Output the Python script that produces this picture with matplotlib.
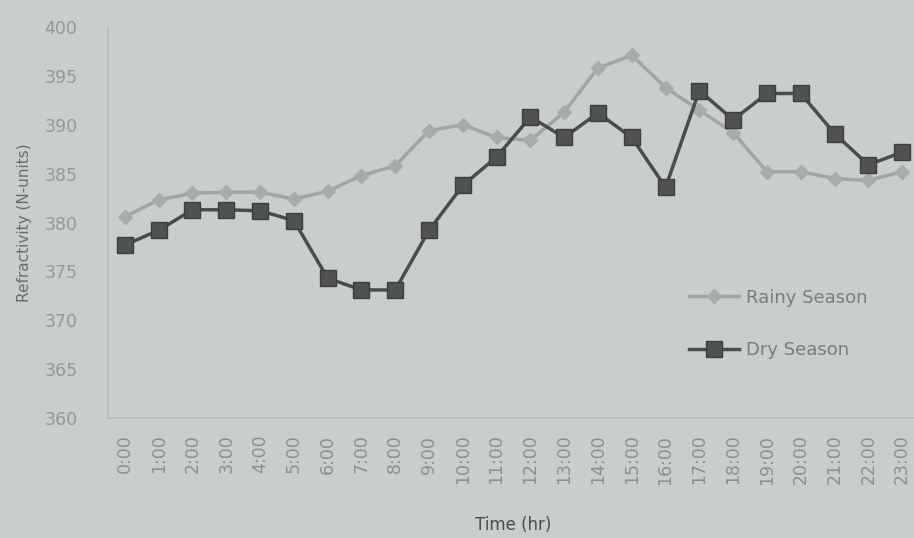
import matplotlib
matplotlib.use("Agg")
import matplotlib.pyplot as plt

hours = [f"{h}:00" for h in range(24)]
rainy = [380.6, 382.3, 383.0, 383.1, 383.1, 382.4, 383.2, 384.8, 385.8, 389.4,
         390.0, 388.7, 388.4, 391.3, 395.8, 397.1, 393.8, 391.5, 389.2, 385.2,
         385.2, 384.5, 384.3, 385.2]
dry = [377.7, 379.2, 381.3, 381.3, 381.2, 380.2, 374.3, 373.1, 373.1, 379.2,
       383.8, 386.7, 390.8, 388.7, 391.2, 388.7, 383.6, 393.5, 390.5, 393.2,
       393.2, 389.1, 385.9, 387.2]
yticks = [360, 365, 370, 375, 380, 385, 390, 395, 400]

bg = "#cacecb"
fig = plt.figure(figsize=(9.14, 5.38), dpi=100, facecolor=bg)
ax = fig.add_axes([108/914, 1-418/538, 811/914, (418-27)/538])
ax.set_facecolor(bg)

x = list(range(len(hours)))
ax.plot(x, rainy, color="#a2a6a2", lw=2.5, marker="D", ms=7,
        mfc="#a8aca8", mec="#a8aca8", label="Rainy Season", zorder=2)
ax.plot(x, dry, color="#4a4c4a", lw=2.5, marker="s", ms=11,
        mfc="#505250", mec="#3c3e3c", label="Dry Season", zorder=3)

ax.set_xlim(-0.5, len(hours)-0.5)
ax.set_ylim(360, 400)
ax.set_yticks(yticks)
ax.set_yticklabels([str(v) for v in yticks], fontsize=12.5, color="#959995")
ax.set_xticks(x)
ax.set_xticklabels(hours, rotation=90, fontsize=12.5, color="#8c908c")
ax.tick_params(axis="y", length=0, pad=22)
ax.tick_params(axis="x", length=0, pad=12)

for s in ["top", "right"]:
    ax.spines[s].set_visible(False)
for s in ["left", "bottom"]:
    ax.spines[s].set_color("#b8bcb8")
    ax.spines[s].set_linewidth(1.2)

ax.set_xlabel("Time (hr)", fontsize=12, color="#4a4c4a", labelpad=23)
ax.set_ylabel("Refractivity (N-units)", fontsize=11, color="#6a6e6a", labelpad=9)

leg = ax.legend(loc="upper left", bbox_to_anchor=(0.696, 0.372), frameon=False,
                fontsize=13, labelspacing=1.9, handlelength=2.8, handletextpad=0.4)
for t in leg.get_texts():
    t.set_color("#7a7e7a")

fig.savefig("out.png", dpi=100, facecolor=bg)
